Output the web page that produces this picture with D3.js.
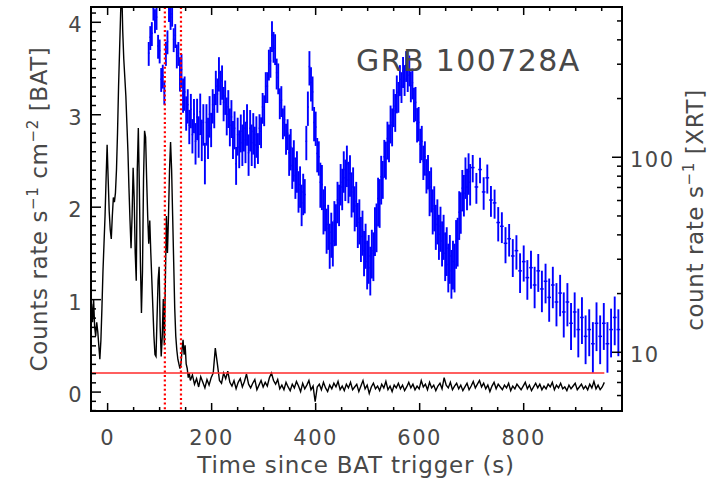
<!DOCTYPE html>
<html>
<head>
<meta charset="utf-8">
<script src="https://cdn.jsdelivr.net/npm/d3@7"></script>
<style>
body { margin: 0; background: #fff; }
text { font-family: "DejaVu Sans", sans-serif; fill: #484848; }
</style>
</head>
<body>
<script>
// BAT light curve, early part as [time, rate]
var batEarly = [[-30,0.95],[-28,0.75],[-26,1.0],[-24,0.7],[-22,0.6],[-20,0.75],[-18,0.65],[-16,0.5],[-14,0.35],[-12,0.55],
  [-10,0.9],[-8,1.3],[-6,1.6],[-4,1.9],[-2,2.3],[0,2.67],[2,2.3],[4,1.95],[6,1.75],[8,1.65],
  [10,1.9],[12,2.1],[14,2.05],[16,2.15],[18,2.4],[20,2.8],[22,3.3],[24,3.7],[26,4.1],[28,4.4],
  [30,3.9],[32,3.6],[34,3.4],[36,3.2],[38,2.9],[40,2.6],[42,2.2],[44,1.85],[46,1.55],[48,1.9],
  [50,2.42],[52,2.1],[54,1.5],[56,1.2],[58,2.4],[60,2.85],[62,2.2],[64,1.4],[66,0.85],[68,1.3],
  [70,2.3],[72,2.82],[74,2.75],[76,2.3],[78,1.9],[80,1.6],[82,1.85],[84,1.5],[86,1.2],[88,0.9],
  [90,0.6],[92,0.4],[94,0.38],[96,0.8],[98,1.2],[100,1.35],[102,0.7],[104,0.38],[106,0.6],[108,1.0],
  [110,0.5],[112,1.2],[114,1.9],[116,1.5],[118,1.9],[120,2.4],[122,2.7],[124,2.4],[126,1.9],[128,1.4],
  [130,0.9],[132,0.6],[134,0.45],[136,0.35],[138,0.3],[140,0.25],[142,0.3],[144,0.45],[146,0.56],[148,0.4],
  [150,0.5],[152,0.3],[154,0.25],[156,0.15],[158,0.2]];

// BAT light curve tail, 4 s bins from t = 160
var batLateStart = 160, batLateStep = 4;
var batLate = [
  0.12,0.18,0.08,0.14,0.05,0.16,0.10,0.04,0.13,0.07,
  0.15,0.20,0.47,0.30,0.12,0.09,0.20,0.14,0.22,0.10,
  0.06,0.12,0.03,0.10,0.14,0.05,0.11,0.19,0.08,0.04,
  0.09,0.13,0.02,0.07,0.12,0.05,0.10,0.06,0.15,0.20,
  0.12,0.08,0.13,0.03,0.07,0.02,0.10,0.05,0.01,0.08,
  0.04,0.11,0.06,0.00,0.09,0.03,0.07,0.12,0.02,0.06,
  -0.11,0.05,0.08,0.02,0.10,0.04,0.00,0.07,0.03,0.09,
  0.05,0.11,0.02,0.06,0.01,0.08,0.04,0.10,0.02,0.05,
  0.08,0.00,0.06,0.12,0.03,0.07,-0.02,0.05,0.09,0.03,
  0.06,0.01,0.08,0.04,0.11,0.02,0.06,0.00,0.07,0.04,
  0.09,0.03,0.07,0.01,0.05,0.10,0.04,0.08,0.02,0.06,
  0.03,0.12,0.05,0.08,0.02,0.10,0.04,0.07,0.01,0.06,
  0.09,0.03,0.15,0.07,0.04,0.10,0.02,0.06,0.09,0.03,
  0.07,0.01,0.05,0.09,0.02,0.06,0.11,0.04,0.08,0.12,
  0.05,0.09,0.03,0.07,0.00,0.06,0.10,0.03,0.08,0.05,
  0.02,0.07,0.04,0.09,0.01,0.06,0.03,0.08,0.05,0.02,
  0.06,0.10,0.03,0.07,0.01,0.05,0.09,0.04,0.08,0.02,
  0.06,0.03,0.08,0.05,0.10,0.02,0.07,0.04,0.09,0.03,
  0.05,0.01,0.07,0.03,0.06,0.09,0.02,0.05,0.08,0.03,
  0.06,0.02,0.08,0.04,0.11,0.03,0.07,0.02,0.05,0.10];

// XRT count rate, 3 s bins from t = 80
var xrtAStart = 80, xrtAStep = 3;
var xrtA = [
  340,410,430,580,500,520,370,350,250,260,
  215,340,390,570,520,540,400,420,330,340,
  270,280,210,215,170,185,145,175,130,165,
  120,160,130,170,125,150,95,150,128,165,
  140,185,175,230,210,270,230,245,190,205,
  165,180,145,160,125,140,92,130,112,135,
  118,140,122,150,105,140,118,135,115,130,
  112,140,135,180,175,230,230,300,310,420,
  370,360,270,255,190,195,150,155,125,132,
  105,112,90,98,80,86,68,72,58,66,
  64,120,180,290,240,215,150,142,104,100,
  74,72,54,56,43,45,36,41,37,47,
  46,60,58,74,70,86,78,92,76,82,
  66,70,56,59,46,48,39,42,33,36,
  29,31,27,33,32,43,45,61,60,79,
  78,100,98,124,120,150,145,182,172,214,
  205,250,230,275,250,295,262,280,232,240,
  188,190,148,150,116,120,95,100,81,85,
  67,70,54,56,45,48,40,44,37,40,
  32,34,28,31,26,29,28,37,38,52,
  53,69,65,80,70,84,74];
// relative error (%) for each block of 10 bins
var xrtErrA = [14,14,20,24,20,22,24,18,18,24,20,26,24,26,28,22,18,20,26,28,24];

// XRT count rate, 7 s bins from t = 703
var xrtBStart = 703, xrtBStep = 7;
var xrtB = [88,70,86,66,78,60,58,46,44,36,38,31,33,26,29,24,27,22,26,21,
  23,19,22,18,20,16,18,14,16,13,15,12,13,11,14,12,14,11,13,15,13];
var xrtErrB = [16,18,15,19,17,18,17,20,18,21,19,22,20,23,21,23,22,24,22,24,
  23,25,24,25,24,26,25,27,26,28,27,28,27,29,28,28,27,29,28,28,27];

var redTimes = [111, 142];
var batThreshold = 0.2;
var title = "GRB 100728A";

var width = 710, height = 482;
var plotL = 91, plotR = 622, plotT = 7, plotB = 411;

var x = d3.scaleLinear().domain([-31, 990]).range([plotL, plotR]);
var y = d3.scaleLinear().domain([-0.21, 4.16]).range([plotB, plotT]);
var yr = d3.scaleLog().domain([4.97, 586]).range([plotB, plotT]);

var svg = d3.select("body").append("svg")
    .attr("width", width)
    .attr("height", height);

svg.append("clipPath").attr("id", "plot")
  .append("rect")
    .attr("x", plotL).attr("y", plotT)
    .attr("width", plotR - plotL).attr("height", plotB - plotT);

var plot = svg.append("g").attr("clip-path", "url(#plot)");

// build the point lists
var bat = batEarly.map(function(d) { return {t: d[0], v: d[1]}; });
batLate.forEach(function(v, i) { bat.push({t: batLateStart + i * batLateStep, v: v}); });

var xrt = [];
xrtA.forEach(function(c, i) {
  xrt.push({t: xrtAStart + i * xrtAStep, c: c, e: xrtErrA[Math.floor(i / 10)] / 100, w: xrtAStep});
});
xrtB.forEach(function(c, i) {
  xrt.push({t: xrtBStart + i * xrtBStep, c: c, e: xrtErrB[i] / 100, w: xrtBStep});
});

// XRT error bars
plot.append("g").selectAll("line")
    .data(xrt)
  .enter().append("line")
    .attr("x1", function(d) { return x(d.t); })
    .attr("x2", function(d) { return x(d.t); })
    .attr("y1", function(d) { return yr(d.c * (1 - d.e)); })
    .attr("y2", function(d) { return yr(d.c * (1 + d.e)); })
    .attr("stroke", "#0000ff")
    .attr("stroke-width", 1.9);

plot.append("g").selectAll("line")
    .data(xrt)
  .enter().append("line")
    .attr("x1", function(d) { return x(d.t - d.w / 2); })
    .attr("x2", function(d) { return x(d.t + d.w / 2); })
    .attr("y1", function(d) { return yr(d.c); })
    .attr("y2", function(d) { return yr(d.c); })
    .attr("stroke", "#0000ff")
    .attr("stroke-width", 1.5);

// BAT curve
var line = d3.line()
    .x(function(d) { return x(d.t); })
    .y(function(d) { return y(d.v); });

plot.append("path")
    .datum(bat)
    .attr("d", line)
    .attr("fill", "none")
    .attr("stroke", "#000")
    .attr("stroke-width", 1.4);

// threshold line
plot.append("line")
    .attr("x1", x(bat[0].t)).attr("x2", x(bat[bat.length - 1].t))
    .attr("y1", y(batThreshold)).attr("y2", y(batThreshold))
    .attr("stroke", "#ff2a2a")
    .attr("stroke-width", 1.5);

// dotted markers
plot.append("g").selectAll("line")
    .data(redTimes)
  .enter().append("line")
    .attr("x1", function(d) { return x(d); })
    .attr("x2", function(d) { return x(d); })
    .attr("y1", plotT).attr("y2", plotB)
    .attr("stroke", "#ff0000")
    .attr("stroke-width", 2.2)
    .attr("stroke-dasharray", "2,2.6");

// axes
function styleAxis(g) {
  g.select(".domain").remove();
  g.selectAll("line").attr("stroke", "#000").attr("stroke-width", 1.5);
  g.selectAll("text")
    .attr("fill", "#484848")
    .style("font-size", "21px")
    .style("letter-spacing", "1.5px")
    .style("font-family", "DejaVu Sans, sans-serif");
}

var xMinor = d3.range(-50, 1000, 50).filter(function(d) { return d % 200 !== 0 && x(d) > plotL && x(d) < plotR; });
var yMinor = d3.range(-2, 42).map(function(d) { return d / 10; }).filter(function(d) { return d % 1 !== 0; });
var yrMinor = [6,7,8,9,20,30,40,50,60,70,80,90,200,300,400,500];

svg.append("g")
    .attr("transform", "translate(0," + plotB + ")")
    .call(d3.axisBottom(x).tickValues([0,200,400,600,800]).tickSize(-8).tickSizeOuter(0).tickPadding(19))
    .call(styleAxis);
svg.append("g")
    .attr("transform", "translate(0," + plotB + ")")
    .call(d3.axisBottom(x).tickValues(xMinor).tickSize(-4).tickSizeOuter(0).tickFormat(""))
    .call(styleAxis);
svg.append("g")
    .attr("transform", "translate(0," + plotT + ")")
    .call(d3.axisTop(x).tickValues([0,200,400,600,800]).tickSize(-8).tickSizeOuter(0).tickFormat(""))
    .call(styleAxis);
svg.append("g")
    .attr("transform", "translate(0," + plotT + ")")
    .call(d3.axisTop(x).tickValues(xMinor).tickSize(-4).tickSizeOuter(0).tickFormat(""))
    .call(styleAxis);

var gl = svg.append("g")
    .attr("transform", "translate(" + plotL + ",0)")
    .call(d3.axisLeft(y).tickValues([0,1,2,3,4]).tickSize(-10).tickSizeOuter(0).tickPadding(8).tickFormat(d3.format("d")))
    .call(styleAxis);
gl.selectAll("text").attr("dy", "0.47em");
svg.append("g")
    .attr("transform", "translate(" + plotL + ",0)")
    .call(d3.axisLeft(y).tickValues(yMinor).tickSize(-5).tickSizeOuter(0).tickFormat(""))
    .call(styleAxis);

var gr = svg.append("g")
    .attr("transform", "translate(" + plotR + ",0)")
    .call(d3.axisRight(yr).tickValues([10,100]).tickSize(-10).tickSizeOuter(0).tickPadding(8).tickFormat(d3.format("d")))
    .call(styleAxis);
gr.selectAll("text").attr("dy", "0.47em");
svg.append("g")
    .attr("transform", "translate(" + plotR + ",0)")
    .call(d3.axisRight(yr).tickValues(yrMinor).tickSize(-5).tickSizeOuter(0).tickFormat(""))
    .call(styleAxis);

// frame
svg.append("rect")
    .attr("x", plotL).attr("y", plotT)
    .attr("width", plotR - plotL).attr("height", plotB - plotT)
    .attr("fill", "none")
    .attr("stroke", "#000")
    .attr("stroke-width", 2);

// titles
svg.append("text")
    .attr("x", 356).attr("y", 71)
    .style("font-size", "30px")
    .style("letter-spacing", "1.4px")
    .text(title);

svg.append("text")
    .attr("x", 356).attr("y", 473)
    .attr("text-anchor", "middle")
    .style("font-size", "23px")
    .style("letter-spacing", "0.8px")
    .text("Time since BAT trigger (s)");

var yl = svg.append("text")
    .attr("transform", "translate(47,209) rotate(-90)")
    .attr("text-anchor", "middle")
    .style("font-size", "23px")
    .style("letter-spacing", "0.6px");
yl.append("tspan").text("Counts rate s");
yl.append("tspan").attr("dy", -9).style("font-size", "15px").text("\u22121");
yl.append("tspan").attr("dy", 9).text(" cm");
yl.append("tspan").attr("dy", -9).style("font-size", "15px").text("\u22122");
yl.append("tspan").attr("dy", 9).text(" [BAT]");

var yr2 = svg.append("text")
    .attr("transform", "translate(703,210) rotate(-90)")
    .attr("text-anchor", "middle")
    .style("font-size", "23px")
    .style("letter-spacing", "0.6px");
yr2.append("tspan").text("count rate s");
yr2.append("tspan").attr("dy", -9).style("font-size", "15px").text("\u22121");
yr2.append("tspan").attr("dy", 9).text(" [XRT]");
</script>
</body>
</html>
